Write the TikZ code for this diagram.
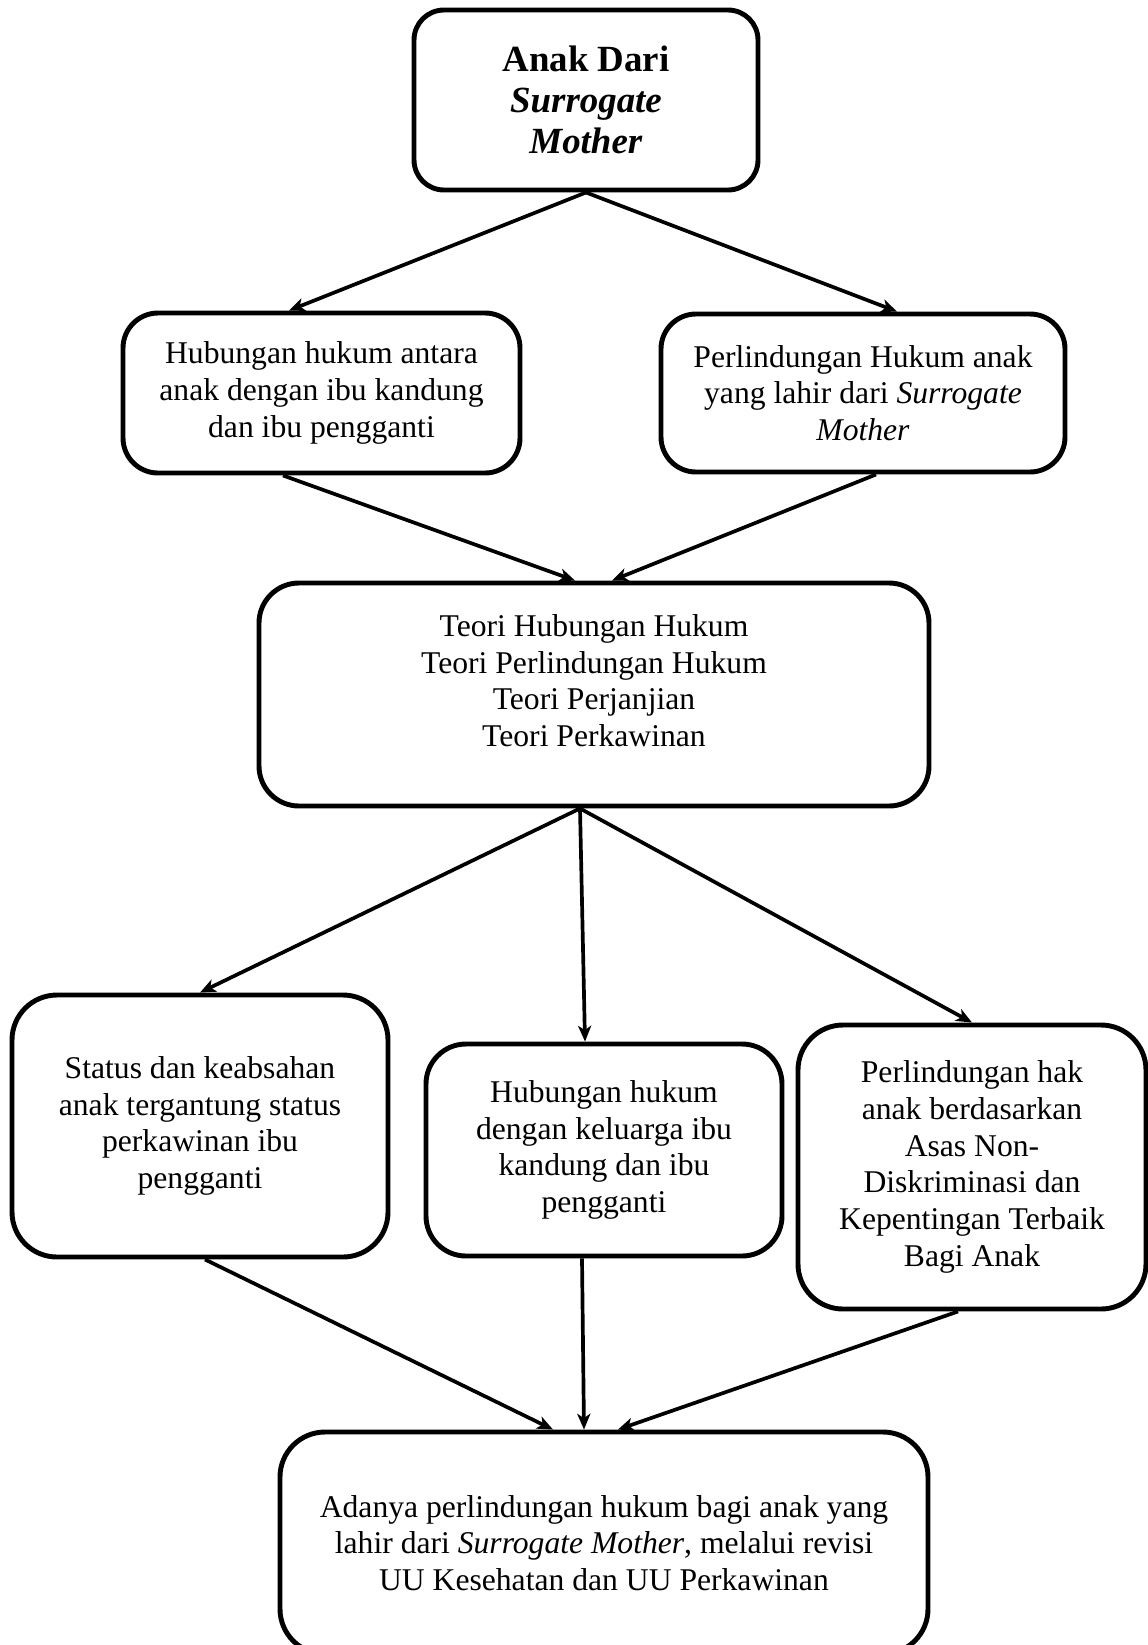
\documentclass[tikz,border=0pt]{standalone}
\usepackage{fontspec}
\setmainfont{Liberation Serif}
\usetikzlibrary{arrows.meta}

\begin{document}
\begin{tikzpicture}[node distance=5cm]
    % Styles
    \tikzstyle{block} = [rectangle, draw, line width=2.8pt, text centered, align=center, rounded corners=0.7cm, font=\fontsize{18}{20.9}\selectfont]
    \tikzstyle{line} = [draw, line width=2.1pt, -{Stealth[length=9pt,width=7.5pt,inset=2.5pt]}]

    \useasboundingbox (0,0) rectangle (22.96,-32.9);

    % Nodes
    \node [block, minimum width=6.88cm, minimum height=3.6cm, rounded corners=0.6cm, font=\fontsize{21}{23.5}\selectfont] (anak) at (11.72,-2.0) {\textbf{Anak Dari}\\\textbf{\textit{Surrogate}}\\\textbf{\textit{Mother}}};
    \node [block, below of=anak, node distance=5.86cm, xshift=-5.29cm, minimum width=7.94cm, minimum height=3.2cm] (hubungan) {Hubungan hukum antara\\anak dengan ibu kandung\\dan ibu pengganti};
    \node [block, right of=hubungan, node distance=10.83cm, minimum width=8.08cm, minimum height=3.16cm] (perlindungan) {Perlindungan Hukum anak\\yang lahir dari \textit{Surrogate}\\\textit{Mother}};
    \node [block, below of=anak, node distance=11.89cm, xshift=0.16cm, minimum width=13.4cm, minimum height=4.46cm, rounded corners=0.8cm] (teori) {Teori Hubungan Hukum\\Teori Perlindungan Hukum\\Teori Perjanjian\\Teori Perkawinan\\[-5pt]\mbox{}};
    \node [block, below of=teori, node distance=9.11cm, xshift=0.2cm, minimum width=7.12cm, minimum height=4.24cm, rounded corners=0.8cm] (keluarga) {Hubungan hukum\\dengan keluarga ibu\\kandung dan ibu\\pengganti};
    \node [block, left of=keluarga, node distance=8.08cm, yshift=0.48cm, minimum width=7.52cm, minimum height=5.24cm, rounded corners=0.9cm] (status) {Status dan keabsahan\\anak tergantung status\\perkawinan ibu\\pengganti};
    \node [block, right of=keluarga, node distance=7.36cm, yshift=-0.34cm, minimum width=6.96cm, minimum height=5.68cm, rounded corners=0.9cm] (hak) {Perlindungan hak\\anak berdasarkan\\Asas Non-\\Diskriminasi dan\\Kepentingan Terbaik\\Bagi Anak};
    \node [block, below of=keluarga, node distance=7.86cm, minimum width=12.96cm, minimum height=4.44cm, rounded corners=0.9cm] (revisi) {Adanya perlindungan hukum bagi anak yang\\lahir dari \textit{Surrogate Mother}, melalui revisi\\UU Kesehatan dan UU Perkawinan};

    % Connections
    \path [line] (anak.south) -- ([xshift=-0.65cm]hubungan.north);
    \path [line] (anak.south) -- ([xshift=0.68cm]perlindungan.north);
    \path [line] ([xshift=-0.77cm]hubungan.south) -- ([xshift=-0.38cm]teori.north);
    \path [line] ([xshift=0.26cm]perlindungan.south) -- ([xshift=0.36cm]teori.north);
    \path [line] ([xshift=-0.28cm]teori.south) -- (status.north);
    \path [line] ([xshift=-0.28cm]teori.south) -- ([xshift=-0.38cm]keluarga.north);
    \path [line] ([xshift=-0.28cm]teori.south) -- (hak.north);
    \path [line] ([xshift=0.1cm]status.south) -- ([xshift=-1.02cm]revisi.north);
    \path [line] ([xshift=-0.44cm]keluarga.south) -- ([xshift=-0.4cm]revisi.north);
    \path [line] ([xshift=-0.28cm]hak.south) -- ([xshift=0.28cm]revisi.north);

\end{tikzpicture}
\end{document}
